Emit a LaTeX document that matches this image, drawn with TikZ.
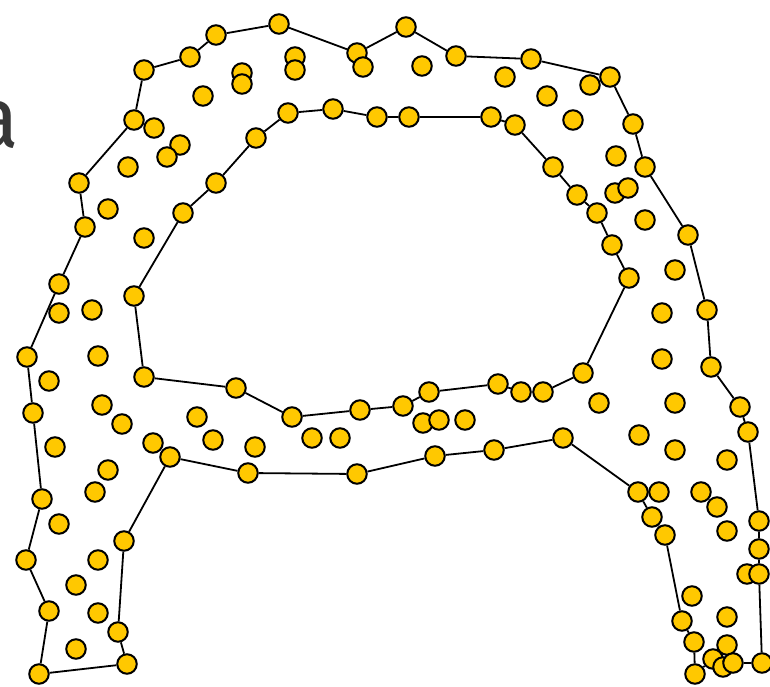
\documentclass[tikz,border=0pt]{standalone}
\usepackage{fontspec}
\newfontfamily\letterfont{Fira Sans}
\definecolor{dotfill}{RGB}{255,200,0}
\definecolor{lettergray}{RGB}{55,55,55}
\begin{document}
\begin{tikzpicture}[x=1pt,y=-1pt,
  dot/.style={circle,draw=black,line width=2pt,fill=dotfill,minimum size=19.5pt,inner sep=0pt},
  edge/.style={draw=black,line width=1.8pt}]
\clip (0,0) rectangle (770,686);
\fill[white] (0,0) rectangle (770,686);
\node[anchor=base east,inner sep=0pt,text=lettergray,font=\letterfont\fontsize{86}{86}\selectfont] (lettera) at (19,147) {a};
\foreach \x/\y [count=\i] in {
216/35,190/57,144/70,242/73,242/84,203/96,134/120,154/128,180/145,167/157,
128/167,256/138,79/183,216/183,108/209,183/213,85/227,144/238,59/284,59/313,
134/296,92/310,27/357,98/356,144/377,49/381,236/388,33/413,102/405,122/424,
197/417,153/443,170/457,213/440,55/447,255/447,108/470,95/492,248/473,42/499,
59/524,124/541,26/560,98/560,76/585,49/611,98/613,118/632,76/649,127/664,
39/674,279/24,406/27,295/57,295/70,357/53,363/67,422/66,456/56,505/77,
288/113,333/109,377/117,409/117,491/117,515/125,531/59,590/85,610/77,547/96,
573/120,633/124,616/156,645/167,553/167,577/195,615/193,628/188,597/213,645/220,
688/235,292/417,360/410,403/406,429/392,498/384,423/423,439/420,465/420,312/438,
340/438,435/456,494/450,357/474,612/245,629/278,675/270,662/313,707/310,662/359,
711/367,583/373,521/392,543/392,599/403,675/403,740/407,748/432,563/438,639/435,
675/450,727/460,638/492,659/492,701/492,717/507,652/517,665/535,727/531,759/521,
759/549,747/574,759/574,692/596,682/621,727/617,694/642,727/645,713/659,723/667,
733/663,762/663,695/674}
  \node[dot] (p\i) at (\x,\y) {};
\draw[edge] (p51) -- (p46) -- (p43) -- (p40) -- (p28) -- (p23) -- (p19) -- (p17) -- (p13) -- (p7) -- (p3) -- (p2) -- (p1) -- (p52) -- (p56) -- (p53) -- (p59) -- (p67) -- (p69) -- (p72) -- (p74) -- (p81) -- (p99) -- (p101) -- (p107) -- (p108) -- (p120) -- (p121) -- (p123) -- (p132) -- (p131) -- (p129) -- (p133) -- (p127) -- (p125) -- (p118) -- (p117) -- (p113) -- (p109) -- (p93) -- (p92) -- (p94) -- (p39) -- (p33) -- (p42) -- (p48) -- (p50) -- (p51);
\draw[edge] (p25) -- (p21) -- (p16) -- (p14) -- (p12) -- (p61) -- (p62) -- (p63) -- (p64) -- (p65) -- (p66) -- (p75) -- (p76) -- (p79) -- (p95) -- (p96) -- (p102) -- (p104) -- (p103) -- (p86) -- (p85) -- (p84) -- (p83) -- (p82) -- (p27) -- (p25);
\end{tikzpicture}
\end{document}
